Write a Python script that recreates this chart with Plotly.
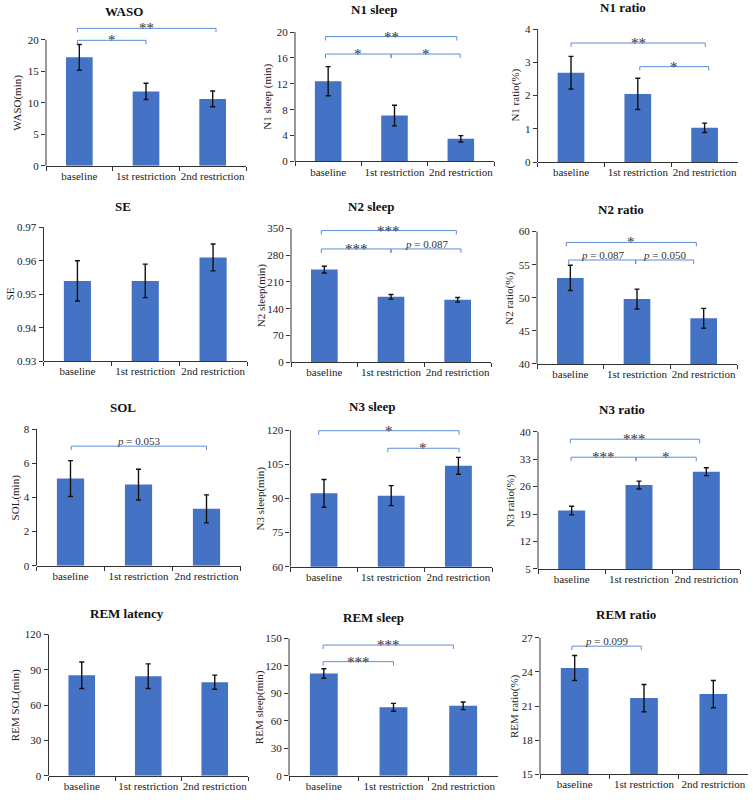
import plotly.graph_objects as go

W, H = 753, 800
FONT = "Liberation Serif"
BAR_COLOR = "#4472C4"
BRACKET_COLOR = "#5B8FD6"
TEXT_COLOR = "#333333"
AXIS_COLOR = "#333333"

categories = ["baseline", "1st restriction", "2nd restriction"]

titles = ["WASO", "N1 sleep", "N1 ratio",
          "SE", "N2 sleep", "N2 ratio",
          "SOL", "N3 sleep", "N3 ratio",
          "REM latency", "REM sleep", "REM ratio"]
ylabels = ["WASO(min)", "N1 sleep (min)", "N1 ratio(%)",
           "SE", "N2 sleep(min)", "N2 ratio(%)",
           "SOL(min)", "N3 sleep(min)", "N3 ratio(%)",
           "REM SOL(min)", "REM sleep(min)", "REM ratio(%)"]

# ---- data (mean, SEM) ----
waso_mean = [17.2, 11.8, 10.6]
waso_sem = [2.05, 1.3, 1.25]
n1_sleep_mean = [12.4, 7.1, 3.5]
n1_sleep_sem = [2.25, 1.6, 0.5]
n1_ratio_mean = [2.69, 2.05, 1.03]
n1_ratio_sem = [0.49, 0.47, 0.14]
se_mean = [0.954, 0.954, 0.961]
se_sem = [0.006, 0.005, 0.004]
n2_sleep_mean = [242, 171, 163]
n2_sleep_sem = [9, 6, 6]
n2_ratio_mean = [53.0, 49.8, 46.9]
n2_ratio_sem = [1.9, 1.5, 1.5]
sol_mean = [5.1, 4.75, 3.33]
sol_sem = [1.05, 0.9, 0.82]
n3_sleep_mean = [92.2, 91.2, 104.3]
n3_sleep_sem = [6.1, 4.4, 3.7]
n3_ratio_mean = [19.9, 26.4, 29.8]
n3_ratio_sem = [1.1, 1.0, 1.0]
rem_latency_mean = [85.4, 84.6, 79.5]
rem_latency_sem = [11.2, 10.5, 6.0]
rem_sleep_mean = [111.7, 74.8, 76.5]
rem_sleep_sem = [5.2, 4.3, 4.2]
rem_ratio_mean = [24.35, 21.7, 22.05]
rem_ratio_sem = [1.1, 1.2, 1.2]

means = [waso_mean, n1_sleep_mean, n1_ratio_mean, se_mean, n2_sleep_mean, n2_ratio_mean,
         sol_mean, n3_sleep_mean, n3_ratio_mean, rem_latency_mean, rem_sleep_mean, rem_ratio_mean]
sems = [waso_sem, n1_sleep_sem, n1_ratio_sem, se_sem, n2_sleep_sem, n2_ratio_sem,
        sol_sem, n3_sleep_sem, n3_ratio_sem, rem_latency_sem, rem_sleep_sem, rem_ratio_sem]

# y tick values per panel
yticks = [
    [0, 5, 10, 15, 20],
    [0, 4, 8, 12, 16, 20],
    [0, 1, 2, 3, 4],
    [0.93, 0.94, 0.95, 0.96, 0.97],
    [0, 70, 140, 210, 280, 350],
    [40, 45, 50, 55, 60],
    [0, 2, 4, 6, 8],
    [60, 75, 90, 105, 120],
    [5, 12, 19, 26, 33, 40],
    [0, 30, 60, 90, 120],
    [0, 30, 60, 90, 120, 150],
    [15, 18, 21, 24, 27],
]
ytick_text = [[str(v) if float(v).is_integer() else "%.2f" % v for v in t] for t in yticks]

# significance brackets: (from category index, to category index, y level, label)
P = "<i>p</i>"
brackets = [
    [(-0.03, 1.0, 19.9, "*"), (-0.03, 2.05, 21.8, "**")],
    [(-0.04, 1.94, 19.3, "**"), (-0.04, 0.95, 16.6, "*"), (0.95, 1.99, 16.6, "*")],
    [(0.0, 2.01, 3.58, "**"), (1.03, 2.06, 2.87, "*")],
    [],
    [(-0.045, 1.98, 344, "***"), (-0.045, 1.0, 296, "***"), (1.0, 2.05, 296, P + " = 0.087")],
    [(-0.06, 1.89, 58.35, "*"), (-0.025, 0.98, 55.7, P + " = 0.087"), (0.98, 1.85, 55.7, P + " = 0.050")],
    [(0.01, 2.0, 7.0, P + " = 0.053")],
    [(-0.08, 2.01, 119.7, "*"), (0.95, 2.01, 112.0, "*")],
    [(-0.02, 1.90, 38.1, "***"), (-0.01, 0.955, 33.5, "***"), (0.955, 1.85, 33.5, "*")],
    [],
    [(-0.01, 1.86, 142.8, "***"), (-0.01, 1.0, 124.7, "***")],
    [(-0.04, 0.96, 26.27, P + " = 0.099")],
]

# ---- layout geometry (pixels) ----
# plot-area left/right, pixel of lowest tick, pixel of highest tick
geom = [
    (46, 246, 167, 40), (295, 494, 162.7, 32.3), (537.6, 738, 163.3, 29.3),
    (43.5, 247, 364, 229), (291, 491, 365, 230), (537, 737, 366.7, 233.3),
    (36.5, 240.5, 570, 432.3), (290.4, 492, 571, 433.3), (538, 740, 573.3, 435),
    (48.5, 248, 781.7, 639.3), (289, 498, 781.7, 643.3), (540, 748, 780, 642.7),
]
title_pos = [(124, 12), (374, 10), (623, 8),
             (123, 208), (371, 208), (621, 211),
             (123, 411), (372, 410), (622, 413),
             (127, 618), (373, 622), (626, 619)]
ylabel_x = [18, 268, 516, 10, 261, 510, 15, 260, 510, 15, 259, 514]

fig = go.Figure()
shapes = []
annotations = []
layout = {}

for i in range(12):
    n = "" if i == 0 else str(i + 1)
    xa, ya = "x" + n, "y" + n
    left, right, pb, pt = geom[i]
    ymin, ymax = yticks[i][0], yticks[i][-1]
    span = ymax - ymin
    scale = (pb - pt) / span
    ptop_ext = max(pt - 0.22 * span * scale, 0.0)
    ytop = ymax + (pt - ptop_ext) / scale
    tick_data = 4.0 / scale  # bracket end-tick length

    fig.add_trace(go.Bar(
        x=categories, y=means[i], xaxis=xa, yaxis=ya,
        marker=dict(color=BAR_COLOR, line=dict(width=0)),
        error_y=dict(type="data", array=sems[i], visible=True,
                     color="#111111", thickness=1.4, width=2.5),
        showlegend=False, hoverinfo="skip",
    ))

    layout["xaxis" + n] = dict(
        domain=[left / W, right / W], anchor=ya, type="category",
        range=[-0.5, 2.5], showline=True, linecolor=AXIS_COLOR, linewidth=1,
        ticks="outside", tickson="boundaries", ticklen=4, tickcolor=AXIS_COLOR,
        tickangle=0, showgrid=False, zeroline=False, fixedrange=True,
        tickfont=dict(family=FONT, size=11, color="#222222"),
    )
    layout["yaxis" + n] = dict(
        domain=[1 - pb / H, min(1.0, 1 - ptop_ext / H)], anchor=xa,
        range=[ymin, ytop], showline=False, showgrid=False, zeroline=False,
        ticks="outside", ticklen=4, tickcolor=AXIS_COLOR,
        tickvals=yticks[i], ticktext=ytick_text[i], fixedrange=True,
        tickfont=dict(family=FONT, size=11, color="#222222"),
    )

    # vertical axis line only up to top tick
    shapes.append(dict(type="line", xref=xa + " domain", yref=ya,
                       x0=0, x1=0, y0=ymin, y1=ymax,
                       line=dict(color=AXIS_COLOR, width=1)))

    # title
    tx, ty = title_pos[i]
    annotations.append(dict(text="<b>" + titles[i] + "</b>", xref="paper", yref="paper",
                            x=tx / W, y=1 - ty / H, xanchor="center", yanchor="middle",
                            showarrow=False, font=dict(family=FONT, size=13, color="#111111")))
    # y label
    annotations.append(dict(text=ylabels[i], xref="paper", yref=ya,
                            x=ylabel_x[i] / W, y=(ymin + ymax) / 2, textangle=-90,
                            xanchor="center", yanchor="middle", showarrow=False,
                            font=dict(family=FONT, size=11, color="#222222")))

    # brackets
    for (b0, b1, yl, lab) in brackets[i]:
        lc = dict(color=BRACKET_COLOR, width=1)
        shapes.append(dict(type="line", xref=xa, yref=ya, x0=b0, x1=b1, y0=yl, y1=yl, line=lc))
        shapes.append(dict(type="line", xref=xa, yref=ya, x0=b0, x1=b0, y0=yl, y1=yl - tick_data, line=lc))
        shapes.append(dict(type="line", xref=xa, yref=ya, x0=b1, x1=b1, y0=yl, y1=yl - tick_data, line=lc))
        star = lab.startswith("*")
        annotations.append(dict(text=lab, xref=xa, yref=ya, x=(b0 + b1) / 2, y=yl,
                                xanchor="center", yanchor="bottom",
                                yshift=-10 if star else -3, showarrow=False,
                                font=dict(family=FONT, size=15 if star else 11, color=TEXT_COLOR)))

fig.update_layout(
    width=W, height=H, margin=dict(l=0, r=0, t=0, b=0),
    paper_bgcolor="white", plot_bgcolor="white",
    bargap=0.6, shapes=shapes, annotations=annotations, **layout,
)

fig.write_html("out.html", config={"displayModeBar": False},
               post_script="document.body.style.margin='0';document.body.style.overflow='hidden';")
